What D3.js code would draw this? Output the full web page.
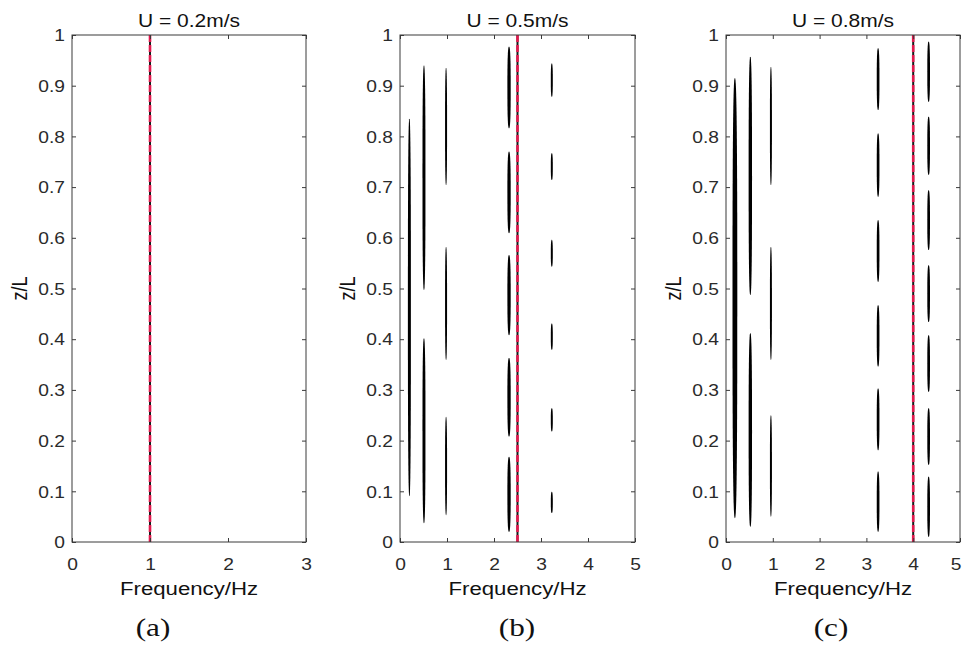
<!DOCTYPE html>
<html>
<head>
<meta charset="utf-8">
<script src="https://cdn.jsdelivr.net/npm/d3@7"></script>
<style>
  html, body { margin: 0; padding: 0; background: #fff; }
  svg { display: block; }
</style>
</head>
<body>
<div id="chart"></div>
<script>
// ---------------- DATA ----------------
const panelTitles   = ["U = 0.2m/s", "U = 0.5m/s", "U = 0.8m/s"];
const panelCaptions = ["(a)", "(b)", "(c)"];
const xMaxValues    = [3, 5, 5];
const xTicksA       = [0, 1, 2, 3];
const xTicksBC      = [0, 1, 2, 3, 4, 5];
const yTickValues   = [0, 0.1, 0.2, 0.3, 0.4, 0.5, 0.6, 0.7, 0.8, 0.9, 1];
const yTickLabels   = ["0", "0.1", "0.2", "0.3", "0.4", "0.5", "0.6", "0.7", "0.8", "0.9", "1"];
const xLabel = "Frequency/Hz";
const yLabel = "z/L";

// red dashed reference frequency for each panel
const refFrequencies = [1, 2.5, 4];

// panel (a): no spectral blobs
const aFreqs = [];
const aAmps = [];
const aSegments = [];

// panel (b): frequency of each spectral line, relative amplitude, z/L segments [zStart, zEnd]
const bFreqs = [0.2, 0.51, 0.98, 2.32, 3.23];
const bAmps  = [1.5, 1.5, 1.0, 1.65, 1.0];
const bSegments = [
  [[0.09, 0.835]],
  [[0.037, 0.402], [0.497, 0.94]],
  [[0.053, 0.247], [0.359, 0.582], [0.704, 0.935]],
  [[0.02, 0.168], [0.208, 0.363], [0.408, 0.566], [0.609, 0.77], [0.816, 0.977]],
  [[0.057, 0.099], [0.218, 0.264], [0.379, 0.431], [0.543, 0.596], [0.714, 0.767], [0.878, 0.944]]
];

// panel (c)
const cFreqs = [0.19, 0.52, 0.96, 3.25, 4.33];
const cAmps  = [2.4, 1.7, 1.0, 1.35, 1.35];
const cSegments = [
  [[0.047, 0.915]],
  [[0.03, 0.412], [0.487, 0.957]],
  [[0.05, 0.25], [0.359, 0.582], [0.704, 0.937]],
  [[0.02, 0.139], [0.181, 0.303], [0.346, 0.467], [0.513, 0.635], [0.681, 0.806], [0.852, 0.974]],
  [[0.01, 0.129], [0.152, 0.264], [0.296, 0.408], [0.434, 0.546], [0.576, 0.694], [0.724, 0.839], [0.868, 0.987]]
];

// ---------------- LAYOUT ----------------
const W = 962, H = 645;
const panelBoxes = [
  { left: 72,  right: 306, top: 35, bottom: 542, captionX: 153 },
  { left: 400, right: 635, top: 35, bottom: 542, captionX: 517 },
  { left: 726, right: 960, top: 35, bottom: 542, captionX: 831 }
];
const SX = 1.2; // horizontal text stretch of the reference
const FONT = "'Liberation Sans', Arial, Helvetica, sans-serif";
const SERIF = "'Liberation Serif', 'Times New Roman', Times, serif";
const AXIS_COLOR = "#3a3a3a";
const TEXT_COLOR = "#2a2a2a";
const RED = "#e3184d";

const svg = d3.select("#chart").append("svg")
  .attr("width", W).attr("height", H)
  .attr("viewBox", `0 0 ${W} ${H}`);

svg.append("rect").attr("width", W).attr("height", H).attr("fill", "#fff");

const panelData = [
  { freqs: aFreqs, amps: aAmps, segs: aSegments, xTicks: xTicksA },
  { freqs: bFreqs, amps: bAmps, segs: bSegments, xTicks: xTicksBC },
  { freqs: cFreqs, amps: cAmps, segs: cSegments, xTicks: xTicksBC }
];

// amplitude -> half width in px
const ampScale = d3.scaleLinear().domain([0, 1]).range([0, 1]);

// superellipse outline (blunter than an ellipse)
function blobPath(cx, cy, rx, ry) {
  const n = 2.7, pts = [];
  for (let k = 0; k < 72; k++) {
    const t = k / 72 * 2 * Math.PI;
    const c = Math.cos(t), s = Math.sin(t);
    pts.push([cx + rx * Math.sign(c) * Math.pow(Math.abs(c), 2 / n),
              cy + ry * Math.sign(s) * Math.pow(Math.abs(s), 2 / n)]);
  }
  return d3.line().curve(d3.curveLinearClosed)(pts);
}

panelBoxes.forEach((box, i) => {
  const pd = panelData[i];
  const x = d3.scaleLinear().domain([0, xMaxValues[i]]).range([box.left, box.right]);
  const y = d3.scaleLinear().domain([0, 1]).range([box.bottom, box.top]);
  const g = svg.append("g");

  // spectral blobs
  const blobs = [];
  pd.freqs.forEach((f, k) => {
    pd.segs[k].forEach(s => blobs.push({ f, amp: pd.amps[k], z0: s[0], z1: s[1] }));
  });
  g.append("g").selectAll("path").data(blobs).join("path")
    .attr("d", d => blobPath(x(d.f), (y(d.z0) + y(d.z1)) / 2, ampScale(d.amp), (y(d.z0) - y(d.z1)) / 2))
    .attr("fill", "#000");

  // reference line: black underneath, red dashed on top
  const rf = refFrequencies[i];
  g.append("line")
    .attr("x1", x(rf)).attr("x2", x(rf))
    .attr("y1", y(0)).attr("y2", y(1))
    .attr("stroke", "#1a1a1a").attr("stroke-width", 2);
  g.append("line")
    .attr("x1", x(rf)).attr("x2", x(rf))
    .attr("y1", y(0)).attr("y2", y(1))
    .attr("stroke", RED).attr("stroke-width", 2.6)
    .attr("stroke-dasharray", "7,3");

  // axes
  const styleAxis = sel => {
    sel.select(".domain").remove();
    sel.selectAll(".tick line").attr("stroke", AXIS_COLOR).attr("stroke-width", 1);
    sel.selectAll("text").attr("fill", TEXT_COLOR).attr("font-family", FONT).attr("font-size", 16);
  };

  const xb = g.append("g").attr("transform", `translate(0,${box.bottom})`)
    .call(d3.axisBottom(x).tickValues(pd.xTicks).tickFormat(d3.format("d")).tickSize(-4).tickPadding(16));
  styleAxis(xb);
  xb.selectAll("text").attr("dy", null).attr("y", 28).attr("transform", `scale(${SX},1)`);
  // keep a label that would fall past the right edge of the picture just inside it
  xb.selectAll(".tick").each(function (d) {
    if (x(d) + 6 > W) {
      d3.select(this).select("text")
        .attr("text-anchor", "end")
        .attr("x", (W - 1 - x(d)) / SX);
    }
  });

  const xt = g.append("g").attr("transform", `translate(0,${box.top})`)
    .call(d3.axisTop(x).tickValues(pd.xTicks).tickFormat("").tickSize(-4));
  styleAxis(xt);

  const yl = g.append("g").attr("transform", `translate(${box.left},0)`)
    .call(d3.axisLeft(y).tickValues(yTickValues).tickFormat((d, j) => yTickLabels[j]).tickSize(-4));
  styleAxis(yl);
  yl.selectAll("text").attr("x", -7 / SX).attr("dy", "0.36em").attr("transform", `scale(${SX},1)`);

  const yr = g.append("g").attr("transform", `translate(${box.right},0)`)
    .call(d3.axisRight(y).tickValues(yTickValues).tickFormat("").tickSize(-4));
  styleAxis(yr);

  // box
  g.append("rect")
    .attr("x", box.left).attr("y", box.top)
    .attr("width", box.right - box.left).attr("height", box.bottom - box.top)
    .attr("fill", "none").attr("stroke", AXIS_COLOR).attr("stroke-width", 1);

  const cx = (box.left + box.right) / 2;

  // title
  g.append("text")
    .attr("transform", `translate(${cx},27) scale(${SX},1)`)
    .attr("text-anchor", "middle")
    .attr("font-family", FONT).attr("font-size", 17.5).attr("fill", "#111")
    .text(panelTitles[i]);

  // x label
  g.append("text")
    .attr("transform", `translate(${cx},595) scale(${SX},1)`)
    .attr("text-anchor", "middle")
    .attr("font-family", FONT).attr("font-size", 18.5).attr("fill", "#111")
    .text(xLabel);

  // y label
  g.append("text")
    .attr("transform", `translate(${box.left - 45},${(box.top + box.bottom) / 2}) rotate(-90) scale(1,${SX})`)
    .attr("text-anchor", "middle")
    .attr("font-family", FONT).attr("font-size", 18).attr("fill", "#111")
    .text(yLabel);

  // caption
  g.append("text")
    .attr("transform", `translate(${box.captionX},636) scale(${SX},1)`)
    .attr("text-anchor", "middle")
    .attr("font-family", SERIF).attr("font-size", 26).attr("fill", "#111")
    .text(panelCaptions[i]);
});
</script>
</body>
</html>
